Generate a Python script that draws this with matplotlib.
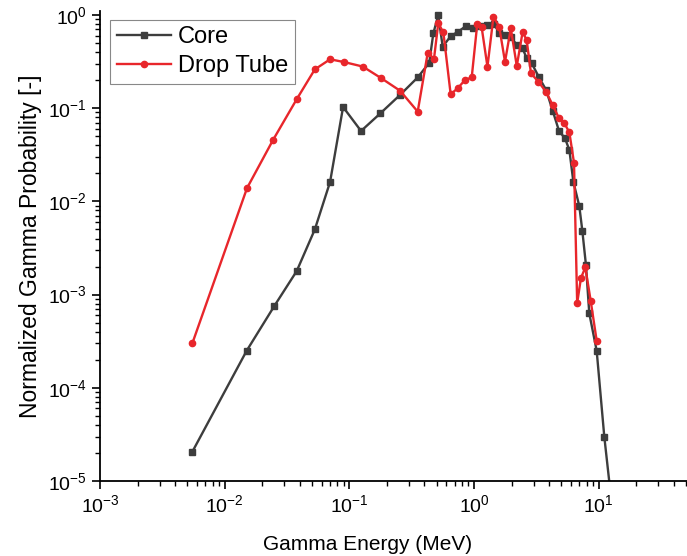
import matplotlib.pyplot as plt
import numpy as np

plt.rcParams['font.family'] = ['Liberation Sans', 'DejaVu Sans']
plt.rcParams['mathtext.fontset'] = 'custom'
plt.rcParams['mathtext.rm'] = 'Liberation Sans'
plt.rcParams['mathtext.it'] = 'Liberation Sans:italic'

# Core spectrum (energy in MeV, normalized probability)
core_e = [0.0055, 0.0150, 0.025, 0.0378, 0.0528, 0.070, 0.089, 0.124, 0.177,
          0.255, 0.353, 0.437, 0.471, 0.516, 0.56, 0.65, 0.746, 0.86, 0.98,
          1.11, 1.28, 1.45, 1.59, 1.77, 1.97, 2.20, 2.45, 2.64, 2.90, 3.32,
          3.78, 4.27, 4.80, 5.36, 5.81, 6.25, 6.98, 7.38, 7.89, 8.39, 9.62,
          11.07, 13.0]
core_p = [2.06e-5, 2.5e-4, 7.55e-4, 1.79e-3, 5.0e-3, 0.0162, 0.103, 0.057, 0.088,
          0.139, 0.214, 0.308, 0.635, 1.0, 0.457, 0.596, 0.663, 0.762, 0.72,
          0.762, 0.78, 0.80, 0.635, 0.61, 0.585, 0.477, 0.439, 0.343, 0.303, 0.214,
          0.157, 0.094, 0.057, 0.0475, 0.0356, 0.0163, 0.0089, 0.00485, 0.00208, 6.3e-4, 2.5e-4,
          3.0e-5, 4.3e-6]

# Drop tube spectrum
tube_e = [0.0055, 0.0151, 0.0244, 0.0378, 0.0528, 0.070, 0.0906, 0.128, 0.18,
          0.255, 0.353, 0.425, 0.477, 0.516, 0.567, 0.649, 0.746, 0.845, 0.957,
          1.06, 1.15, 1.28, 1.43, 1.59, 1.77, 1.97, 2.20, 2.45, 2.64, 2.86,
          3.27, 3.78, 4.27, 4.80, 5.30, 5.81, 6.33, 6.71, 7.19, 7.80, 8.61, 9.62]
tube_p = [3.0e-4, 0.0139, 0.0456, 0.125, 0.261, 0.335, 0.313, 0.28, 0.21,
          0.154, 0.092, 0.394, 0.34, 0.815, 0.652, 0.141, 0.166, 0.201, 0.214,
          0.80, 0.738, 0.279, 0.96, 0.75, 0.315, 0.72, 0.284, 0.657, 0.539, 0.237,
          0.193, 0.150, 0.108, 0.078, 0.069, 0.055, 0.0259, 8.1e-4, 1.5e-3, 1.96e-3, 8.6e-4, 3.2e-4]

fig = plt.figure(figsize=(6.87, 5.56), dpi=100)
ax = fig.add_axes([0.1456, 0.1349, 0.8544, 0.845])

ax.plot(core_e, core_p, color='#3d3d3d', lw=1.7, marker='s', ms=4, label='Core')
ax.plot(tube_e, tube_p, color='#e8262b', lw=1.7, marker='o', ms=4.5, label='Drop Tube')

ax.set_xscale('log')
ax.set_yscale('log')
ax.set_xlim(1e-3, 51)
ax.set_ylim(1e-5, 1.1)

ax.spines['top'].set_visible(False)
ax.spines['right'].set_visible(False)
ax.spines['left'].set_linewidth(1.3)
ax.spines['bottom'].set_linewidth(1.3)
ax.tick_params(which='major', direction='out', length=6, width=1.2, labelsize=14)
ax.tick_params(which='minor', direction='out', length=3.5, width=1.0)

ax.set_xlabel('Gamma Energy (MeV)', fontsize=15)
ax.xaxis.set_label_coords(0.455, -0.115)
ax.set_ylabel('Normalized Gamma Probability [-]', fontsize=16.5, labelpad=4)

leg = ax.legend(loc='upper left', bbox_to_anchor=(0.017, 0.982), fontsize=17,
                fancybox=False, framealpha=1, edgecolor='#888888',
                handlelength=2.3, borderpad=0.28, labelspacing=0.3, handletextpad=0.3,
                borderaxespad=0)
leg.get_frame().set_linewidth(0.8)

fig.savefig('out.png', dpi=100)
